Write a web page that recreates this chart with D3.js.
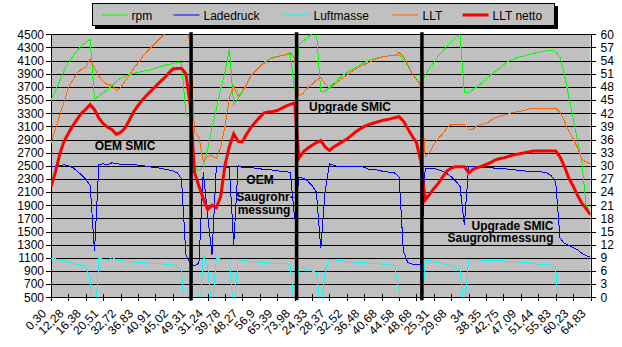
<!DOCTYPE html>
<html>
<head>
<meta charset="utf-8">
<script src="https://cdn.jsdelivr.net/npm/d3@7"></script>
<style>
  body { margin: 0; background: #fff; }
  svg { display: block; }
  text { font-family: Arial, "Liberation Sans", sans-serif; }
</style>
</head>
<body>
<svg id="chart" width="622" height="347"></svg>
<script>
// Category labels (elapsed time per run), one every 4 samples
const tickLabels = ["0,30","12,28","16,38","20,51","32,72","36,83","40,91","45,02","49,31",
  "31,24","39,78","48,27","56,9","65,39","73,98",
  "24,33","28,37","32,52","36,48","40,68","44,58","48,68",
  "25,31","29,68","34","38,35","42,75","47,09","51,44","55,83","60,23","64,83"];
const samplesPerLabel = 4;

// Engine speed [1/min] (left axis)
const rpm = [3490,3640,3790,3940,4070,4160,4250,4330,4380,4420,3510,3560,3610,3660,3720,3780,3835,3860,3885,3905,
  3920,3935,3950,3960,3985,4005,4025,4040,4055,4070,4075,3280,3250,
  2490,2420,2490,2740,3070,3360,3670,3930,4270,3430,3520,3620,3740,3870,3940,4010,4075,4115,4150,4165,4180,4185,4195,3650,
  4340,4400,4450,4510,4540,3630,3630,3700,3760,3820,3875,3915,3960,4000,4035,4070,4100,4125,4140,4155,4165,4175,4180,4185,4120,4020,3900,3820,3740,
  3870,3990,4070,4170,4240,4320,4390,4455,4495,3620,3610,3660,3710,3755,3820,3880,3930,3980,4035,4085,4110,4140,4160,4175,4195,4210,4225,4240,4250,4260,4235,4150,3890,3560,3230,2890,2570,1900,1750];

// Boost pressure [mbar] (left axis)
const ladedruck = [2486,2490,2505,2515,2500,2475,2420,2360,2295,2200,1200,2520,2530,2520,2545,2530,2525,2522,2520,2517,
  2510,2502,2492,2482,2475,2465,2450,2440,2420,2395,2300,1150,1015,
  980,1020,2410,1750,1150,2480,2490,2480,2470,1300,2500,2470,2470,2470,2465,2455,2445,2440,2435,2425,2415,2410,2400,1700,
  2330,2310,2270,2200,2100,1250,2100,2530,2510,2486,2485,2485,2485,2485,2485,2480,2445,2440,2436,2420,2410,2400,2390,2330,1200,1030,1005,1000,1000,
  2460,2462,2462,2440,2420,2380,2334,2270,2190,1600,2490,2495,2490,2480,2475,2470,2465,2460,2455,2450,2440,2435,2430,2420,2412,2410,2410,2405,2390,2350,2250,1400,1320,1290,1260,1225,1170,1135,1110];

// Air mass (left axis)
const luftmasse = [1093,1085,1067,1060,1035,1015,1000,990,970,800,0,1093,1080,1060,1105,1070,1055,1050,1045,1035,
  1030,1025,1022,1020,1017,1012,1005,995,991,980,900,0,0,
  0,0,1160,960,300,1090,1080,1080,1060,300,1075,1065,1055,1045,1040,1035,1030,1022,1017,1017,1015,1012,990,300,
  966,950,915,900,880,300,900,1078,1070,1060,1055,1045,1040,1032,1030,1025,1020,1017,1012,1005,1000,990,985,600,0,0,0,0,0,
  1067,1065,1045,1030,1010,995,980,950,920,300,1078,1072,1068,1067,1067,1065,1062,1060,1055,1050,1045,1040,1035,1030,1020,1012,1005,1000,993,990,960,0,0,0,0,0,0,0,0];

// Charge air temperature [°C] (right axis)
const llt = [35.1,38.4,41.5,44.5,47.8,49.5,51.2,52.0,52.5,54.3,52.4,50.4,49.3,48.5,48.4,47.2,47.8,49.3,50.7,52.2,
  53.4,54.8,56.0,57.0,58.0,59.0,60.0,61.0,62.0,62.5,62.5,61.0,58.0,
  37.6,36.5,31.0,32.2,32.3,31.7,34.2,39.0,45.5,48.3,45.8,47.0,48.8,50.6,51.6,52.6,53.4,54.2,54.6,54.9,55.1,55.4,55.8,54.5,
  46.0,46.6,47.8,48.6,49.5,50.2,48.7,47.7,48.5,49.3,50.0,50.7,51.4,52.1,52.6,53.1,53.5,54.0,54.5,54.8,55.0,55.1,55.2,55.8,54.8,53.2,51.0,49.7,48.2,
  32.1,33.0,34.9,36.2,37.3,38.6,39.5,39.5,39.5,39.5,38.4,38.3,39.2,39.5,39.6,40.3,40.9,41.2,41.5,41.8,42.1,42.3,42.5,42.7,43.0,43.1,43.1,43.1,43.1,43.1,43.1,42.2,40.2,38.0,36.2,34.2,31.6,30.8,30.5];

// Charge air temperature, net [°C] (right axis)
const lltNetto = [25.2,28.5,32.6,35.6,37.4,39.1,40.6,42.0,42.9,44.0,42.8,40.9,39.6,38.8,38.3,37.2,37.6,38.6,40.4,42.3,
  43.8,45.0,46.1,47.1,48.1,49.1,50.0,51.1,52.1,52.2,52.2,51.0,44.0,
  28.5,25.4,22.5,20.0,21.0,20.4,23.0,30.2,34.4,37.3,35.6,35.5,37.3,38.8,40.0,41.1,42.1,42.3,42.4,42.6,43.1,43.6,44.0,44.3,
  31.7,33.2,34.0,34.7,35.3,35.8,34.3,33.5,34.3,34.9,35.5,36.1,36.9,37.7,38.4,39.0,39.4,39.7,40.0,40.3,40.5,40.7,41.0,41.2,40.2,38.5,36.8,35.3,31.0,
  22.2,23.5,24.8,26.0,27.4,28.8,29.5,29.8,29.8,29.8,28.4,29.2,29.6,29.9,30.3,30.7,31.3,31.6,31.8,32.1,32.4,32.6,32.8,33.0,33.2,33.4,33.4,33.4,33.4,33.4,33.4,32.0,29.9,27.2,25.4,23.3,21.5,20.2,18.8];

// Sample positions where a new measurement run begins
const runBreaks = [32.2, 56.45, 85.25];

const leftTicks = d3.range(500, 4501, 200);
const rightTicks = d3.range(0, 61, 3);

const svg = d3.select("#chart");
const plot = { left: 51, right: 590.5, top: 34.3, bottom: 297.3 };
const nSamples = rpm.length;

const x = d3.scaleLinear().domain([0, nSamples - 1]).range([plot.left, plot.right]);
const yL = d3.scaleLinear().domain([500, 4500]).range([plot.bottom, plot.top]);
const yR = d3.scaleLinear().domain([0, 60]).range([plot.bottom, plot.top]);

// plot background
svg.append("rect")
  .attr("x", plot.left).attr("y", plot.top)
  .attr("width", plot.right - plot.left).attr("height", plot.bottom - plot.top)
  .attr("fill", "#c0c0c0");

svg.append("clipPath").attr("id", "clip")
  .append("rect")
  .attr("x", plot.left).attr("y", plot.top)
  .attr("width", plot.right - plot.left).attr("height", plot.bottom - plot.top);

// horizontal gridlines
svg.append("g").attr("shape-rendering", "crispEdges")
  .selectAll("line").data(leftTicks).join("line")
  .attr("x1", plot.left).attr("x2", plot.right)
  .attr("y1", d => Math.round(yL(d)) + 0.5).attr("y2", d => Math.round(yL(d)) + 0.5)
  .attr("stroke", "#000").attr("stroke-width", 1);

// left axis
const gL = svg.append("g").attr("transform", `translate(${plot.left},0)`)
  .call(d3.axisLeft(yL).tickValues(leftTicks).tickFormat(d3.format("d")).tickSize(5).tickPadding(2));
// right axis
const gR = svg.append("g").attr("transform", `translate(${plot.right},0)`)
  .call(d3.axisRight(yR).tickValues(rightTicks).tickFormat(d3.format("d")).tickSize(5).tickPadding(5));
[gL, gR].forEach(g => {
  g.attr("shape-rendering", "crispEdges");
  g.select(".domain").attr("stroke", "#000");
  g.selectAll(".tick line").attr("stroke", "#000");
  g.selectAll(".tick text").attr("font-size", 12).attr("fill", "#000")
    .attr("font-family", "Arial, 'Liberation Sans', sans-serif");
});

// bottom axis: crossing tick marks and rotated labels
const tickIdx = tickLabels.map((_, i) => i * samplesPerLabel);
const gB = svg.append("g");
gB.append("line")
  .attr("x1", plot.left).attr("x2", plot.right)
  .attr("y1", plot.bottom).attr("y2", plot.bottom)
  .attr("stroke", "#000").attr("shape-rendering", "crispEdges");
gB.selectAll("line.tk").data(tickIdx).join("line").attr("class", "tk")
  .attr("x1", d => Math.round(x(d)) + 0.5).attr("x2", d => Math.round(x(d)) + 0.5)
  .attr("y1", plot.bottom - 3).attr("y2", plot.bottom + 4)
  .attr("stroke", "#000").attr("shape-rendering", "crispEdges");
gB.selectAll("text").data(tickLabels).join("text")
  .attr("transform", (d, i) => `translate(${x(tickIdx[i]) - 4},${plot.bottom + 17}) rotate(-45)`)
  .attr("text-anchor", "end")
  .attr("font-size", 12)
  .text(d => d);

// series
const series = [
  { name: "rpm", values: rpm, y: yL, color: "#00ff00", width: 1 },
  { name: "Ladedruck", values: ladedruck, y: yL, color: "#0000ff", width: 1 },
  { name: "Luftmasse", values: luftmasse, y: yL, color: "#00ffff", width: 1 },
  { name: "LLT", values: llt, y: yR, color: "#ff6600", width: 1 },
  { name: "LLT netto", values: lltNetto, y: yR, color: "#ff0000", width: 3 }
];
const gS = svg.append("g").attr("clip-path", "url(#clip)");
series.forEach(s => {
  const line = d3.line().x((d, i) => x(i)).y(d => s.y(d));
  gS.append("path").datum(s.values)
    .attr("d", line)
    .attr("fill", "none")
    .attr("stroke", s.color)
    .attr("stroke-width", s.width)
    .attr("stroke-linejoin", "miter")
    .attr("shape-rendering", s.width === 1 ? "crispEdges" : "auto");
});

// run separators
svg.append("g").selectAll("line").data(runBreaks).join("line")
  .attr("x1", d => x(d)).attr("x2", d => x(d))
  .attr("y1", plot.top - 2).attr("y2", plot.bottom + 3)
  .attr("stroke", "#000").attr("stroke-width", 3.5);

// run annotations
const ann = svg.append("g").attr("font-weight", "bold").attr("font-size", 12).attr("fill", "#000");
ann.append("text").attr("x", 125).attr("y", 150).attr("text-anchor", "middle").text("OEM SMIC");
const oem = ann.append("text").attr("text-anchor", "middle");
oem.append("tspan").attr("x", 260).attr("y", 184).text("OEM");
oem.append("tspan").attr("x", 265).attr("y", 201).text("Saugrohr-");
oem.append("tspan").attr("x", 264).attr("y", 214).text("messung");
ann.append("text").attr("x", 350).attr("y", 110.5).attr("text-anchor", "middle").text("Upgrade SMIC");
const up = ann.append("text").attr("text-anchor", "end");
up.append("tspan").attr("x", 553.5).attr("y", 229.5).text("Upgrade SMIC");
up.append("tspan").attr("x", 553.5).attr("y", 242).text("Saugrohrmessung");

// legend
const lg = svg.append("g");
lg.append("rect").attr("x", 95).attr("y", 6).attr("width", 463).attr("height", 23).attr("fill", "#000");
lg.append("rect").attr("x", 92.5).attr("y", 3.5).attr("width", 462).attr("height", 22)
  .attr("fill", "#c0c0c0").attr("stroke", "#000");
const legendX = [101.5, 173.5, 283.5, 392.5, 462.5];
series.forEach((s, i) => {
  lg.append("line")
    .attr("x1", legendX[i]).attr("x2", legendX[i] + 26)
    .attr("y1", 15).attr("y2", 15)
    .attr("stroke", s.color).attr("stroke-width", s.width);
  lg.append("text")
    .attr("x", legendX[i] + 30).attr("y", 19.5)
    .attr("font-size", 12).attr("fill", "#000")
    .text(s.name);
});
</script>
</body>
</html>
